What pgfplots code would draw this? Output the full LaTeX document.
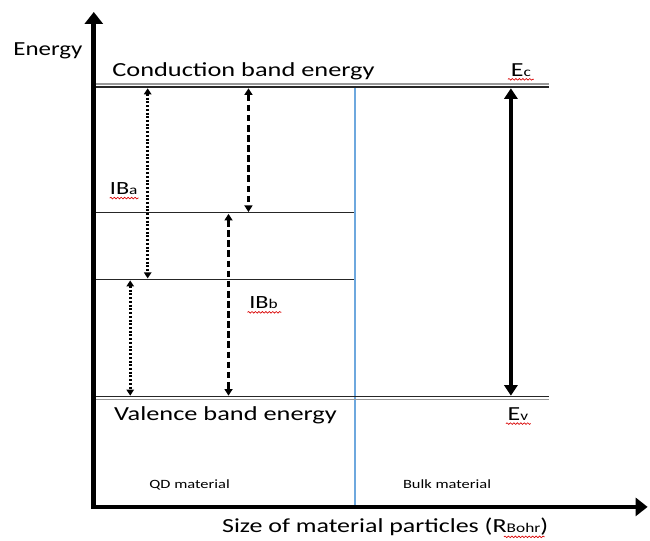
\documentclass[border=0pt]{standalone}
\usepackage{fontspec}
\setmainfont{Carlito}
\usepackage{pgfplots}
\pgfplotsset{compat=1.18}
\usetikzlibrary{arrows.meta,decorations.pathmorphing}

\definecolor{sepblue}{RGB}{110,168,222}
\definecolor{txt}{RGB}{38,38,38}
\newcommand{\sm}[1]{{\fontsize{10}{10}\selectfont #1}}

\begin{document}
\begin{tikzpicture}
\begin{axis}[
  width=487.5pt, height=405pt, scale only axis,
  xmin=0, xmax=650, ymin=0, ymax=540, y dir=reverse,
  hide axis, clip=false,
  every node/.style={text=txt, inner sep=0pt},
  spell/.style={red!85!black, line width=0.5pt, decorate,
    decoration={snake, amplitude=0.6pt, segment length=2.6pt}},
]
% page frame
\addplot[draw=none] coordinates {(0,0) (650,540)};

% axes
\addplot[black, line width=3.6pt, -{Triangle[width=13.5pt,length=9pt]}]
  coordinates {(94,509.8) (94,12)};
\addplot[black, line width=3.6pt, -{Triangle[width=13.5pt,length=9pt]}]
  coordinates {(92.2,508) (649,508)};

% QD / bulk separator
\addplot[color=sepblue, solid, line width=1.2pt] coordinates {(355.8,88) (355.8,506)};

% conduction band (double line)
\addplot[gray!80, line width=1.1pt] coordinates {(96,84) (550,84)};
\addplot[black!85, line width=1.1pt] coordinates {(96,87) (550,87)};
% valence band (double line)
\addplot[black!85, line width=1.1pt] coordinates {(96,397.3) (550,397.3)};
\addplot[gray!80, line width=1.1pt] coordinates {(96,400.3) (550,400.3)};

% intermediate band levels
\addplot[black!85, line width=0.8pt] coordinates {(96,213.3) (355,213.3)};
\addplot[black!85, line width=0.8pt] coordinates {(96,280) (355,280)};

% dotted transitions
\addplot[black, line width=2.3pt, dash pattern={on 1.5pt off 1.3pt},
  {Triangle[width=5.5pt,length=4.5pt]}-{Triangle[width=5.5pt,length=4.5pt]}]
  coordinates {(148,88.5) (148,279)};
\addplot[black, line width=2.3pt, dash pattern={on 1.5pt off 1.3pt},
  {Triangle[width=5.5pt,length=4.5pt]}-{Triangle[width=5.5pt,length=4.5pt]}]
  coordinates {(130.5,281) (130.5,396.5)};

% dashed transitions
\addplot[black, line width=2.3pt, dash pattern={on 5pt off 2.6pt},
  {Triangle[width=6pt,length=5pt]}-{Triangle[width=6pt,length=5pt]}]
  coordinates {(249,88.5) (249,212.5)};
\addplot[black, line width=2.3pt, dash pattern={on 5pt off 2.6pt},
  {Triangle[width=6pt,length=5pt]}-{Triangle[width=6pt,length=5pt]}]
  coordinates {(229,214.3) (229,396.5)};

% bulk band gap
\addplot[black, line width=3.2pt,
  {Triangle[width=10pt,length=8pt]}-{Triangle[width=10pt,length=8pt]}]
  coordinates {(512,88.5) (512,396.5)};

% spell-check underlines
\addplot[spell] coordinates {(110,198.5) (139,198.5)};
\addplot[spell] coordinates {(248,313) (282,313)};
\addplot[spell] coordinates {(509,79.5) (535,79.5)};
\addplot[spell] coordinates {(507,424.5) (532,424.5)};
\addplot[spell] coordinates {(505,538) (546,538)};

% labels
\node[anchor=base, xscale=1.25, font=\fontsize{15}{15}\selectfont] at (axis cs:48,56) {Energy};
\node[anchor=base, xscale=1.32, font=\fontsize{15}{15}\selectfont] at (axis cs:244,77) {Conduction band energy};
\node[anchor=base, xscale=1.32, font=\fontsize{15}{15}\selectfont] at (axis cs:226,421.5) {Valence band energy};
\node[anchor=base, xscale=1.3, font=\fontsize{15}{15}\selectfont] at (axis cs:522,77) {E\sm{c}};
\node[anchor=base, xscale=1.3, font=\fontsize{15}{15}\selectfont] at (axis cs:519,421) {E\sm{v}};
\node[anchor=base, xscale=1.3, font=\fontsize{14}{14}\selectfont] at (axis cs:124,195) {IB\sm{a}};
\node[anchor=base, xscale=1.3, font=\fontsize{14}{14}\selectfont] at (axis cs:264,309) {IB\sm{b}};
\node[anchor=base, xscale=1.3, font=\fontsize{9.5}{9.5}\selectfont] at (axis cs:190,490) {QD material};
\node[anchor=base, xscale=1.3, font=\fontsize{9.5}{9.5}\selectfont] at (axis cs:448,490) {Bulk material};
\node[anchor=base, xscale=1.3, font=\fontsize{15}{15}\selectfont] at (axis cs:386,534) {Size of material particles (R\sm{Bohr})};
\end{axis}
\end{tikzpicture}
\end{document}
